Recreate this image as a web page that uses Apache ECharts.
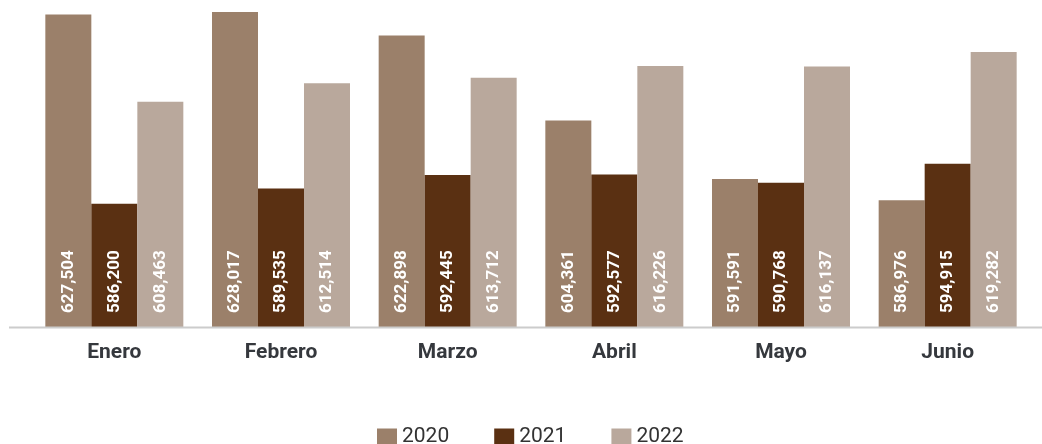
<!DOCTYPE html>
<html>
<head>
<meta charset="utf-8">
<script src="https://cdn.jsdelivr.net/npm/echarts@6/dist/echarts.min.js"></script>
<style>html,body{margin:0;padding:0;background:#fff}#c{width:1042px;height:444px}</style>
</head>
<body>
<div id="c"></div>
<script>
var categories = ['Enero', 'Febrero', 'Marzo', 'Abril', 'Mayo', 'Junio'];
var seriesNames = ['2020', '2021', '2022'];
var values2020 = [627504, 628017, 622898, 604361, 591591, 586976];
var values2021 = [586200, 589535, 592445, 592577, 590768, 594915];
var values2022 = [608463, 612514, 613712, 616226, 616137, 619282];
var colors = ['#9b806a', '#5a3012', '#b9a89c'];

var chart = echarts.init(document.getElementById('c'), null, {renderer: 'canvas'});
function fmt(v) { return v.toLocaleString('en-US'); }
function mkSeries(name, data, color) {
  return {
    name: name, type: 'bar', data: data, barWidth: 46, barGap: '0%',
    itemStyle: {color: color},
    label: {
      show: true, position: 'insideBottom', rotate: 90, distance: 14,
      align: 'left', verticalAlign: 'middle',
      color: '#ffffff', fontFamily: 'Roboto', fontWeight: 'bold', fontSize: 17,
      formatter: function (p) { return fmt(p.value); }
    }
  };
}
chart.setOption({
  animation: false,
  textStyle: {fontFamily: 'Roboto'},
  grid: {left: 31, right: 11, top: 3, bottom: 117, containLabel: false},
  legend: {
    data: seriesNames, left: 372, top: 421, itemWidth: 20, itemHeight: 16, itemGap: 45,
    icon: 'rect', padding: 5,
    textStyle: {fontFamily: 'Roboto', fontSize: 21, color: '#333'}
  },
  xAxis: {
    type: 'category', data: categories,
    axisLine: {show: false}, axisTick: {show: false},
    axisLabel: {margin: 15, fontFamily: 'Roboto', fontWeight: 'bold', fontSize: 21, color: '#35383d'}
  },
  yAxis: {
    type: 'value', min: 559300, max: 630000, show: false, splitLine: {show: false}
  },
  graphic: [{
    type: 'line', shape: {x1: 9, y1: 327.5, x2: 1042, y2: 327.5},
    style: {stroke: '#cccccc', lineWidth: 2}, z: 10
  }],
  series: [
    mkSeries(seriesNames[0], values2020, colors[0]),
    mkSeries(seriesNames[1], values2021, colors[1]),
    mkSeries(seriesNames[2], values2022, colors[2])
  ]
});
</script>
</body>
</html>
